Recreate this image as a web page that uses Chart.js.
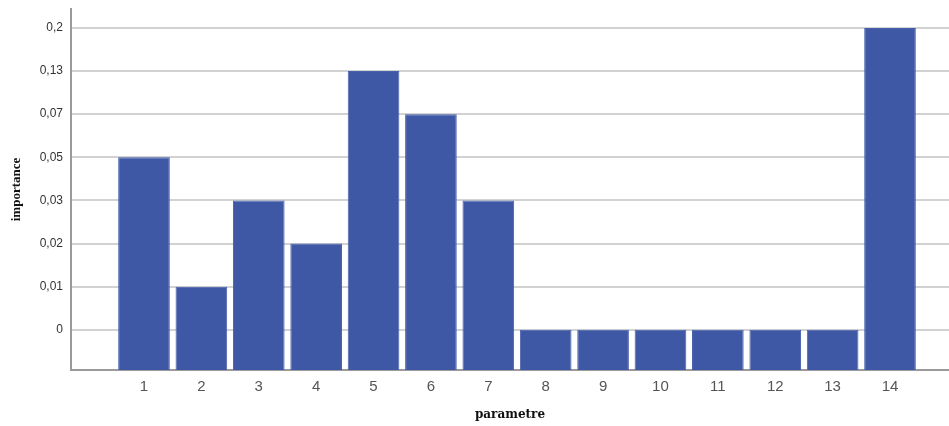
<!DOCTYPE html>
<html>
<head>
<meta charset="utf-8">
<script src="https://cdn.jsdelivr.net/npm/chart.js@4/dist/chart.umd.min.js"></script>
<style>
  html, body { margin: 0; padding: 0; background: #fff; }
  #wrap { width: 949px; height: 426px; position: relative; }
</style>
</head>
<body>
<div id="wrap"><canvas id="c"></canvas></div>
<script>
// ---- data ----
const categories = ['1','2','3','4','5','6','7','8','9','10','11','12','13','14'];
const importance = [0.05, 0.01, 0.03, 0.02, 0.13, 0.07, 0.03, 0, 0, 0, 0, 0, 0, 0.2];
const tickValues = [0, 0.01, 0.02, 0.03, 0.05, 0.07, 0.13, 0.2];
const tickLabels = ['0', '0,01', '0,02', '0,03', '0,05', '0,07', '0,13', '0,2'];
const xTitle = 'parametre';
const yTitle = 'importance';

// the y axis in the picture is ordinal: each tick value sits one step above the previous
const Y_MIN = -0.934, Y_MAX = 7.44;
const X_MIN = -0.272, X_MAX = 15.028;

const points = categories.map((c, i) => ({ x: i + 1, y: tickValues.indexOf(importance[i]) }));

new Chart(document.getElementById('c'), {
  type: 'bar',
  data: {
    datasets: [{
      data: points,
      base: Y_MIN,
      backgroundColor: '#3E58A6',
      borderColor: '#4760AC',
      borderWidth: 1,
      barPercentage: 0.9,
      categoryPercentage: 1.0
    }]
  },
  options: {
    responsive: true,
    maintainAspectRatio: false,
    devicePixelRatio: 1,
    animation: false,
    layout: { padding: { top: 9, right: 0, left: 0, bottom: 0 } },
    plugins: { legend: { display: false }, tooltip: { enabled: false } },
    scales: {
      x: {
        type: 'linear',
        offset: false,
        min: X_MIN, max: X_MAX,
        grid: { display: false, offset: false },
        border: { display: true, color: '#9a9a9a', width: 2 },
        ticks: {
          stepSize: 1,
          includeBounds: false,
          autoSkip: false,
          maxRotation: 0,
          padding: 0,
          color: '#555',
          font: { family: 'Liberation Sans, Arial, sans-serif', size: 15 },
          callback: (v) => (Number.isInteger(v) && v >= 1 && v <= categories.length) ? categories[v - 1] : ''
        },
        title: {
          display: true,
          text: xTitle,
          color: '#111',
          font: { family: 'DejaVu Serif, serif', size: 12, weight: 'bold' },
          padding: { top: 4, bottom: 4 }
        },
        afterFit: (s) => { s.height = 56; s.paddingLeft = 0; s.paddingRight = 0; }
      },
      y: {
        type: 'linear',
        min: Y_MIN, max: Y_MAX,
        grid: { color: '#d2d2d2', lineWidth: 2, drawTicks: false },
        border: { display: true, color: '#9a9a9a', width: 2 },
        ticks: {
          stepSize: 1,
          includeBounds: false,
          padding: 8,
          color: '#333',
          font: { family: 'Liberation Sans, Arial, sans-serif', size: 12 },
          callback: (v) => (Number.isInteger(v) && v >= 0 && v < tickLabels.length) ? tickLabels[v] : ''
        },
        title: {
          display: true,
          text: yTitle,
          color: '#111',
          font: { family: 'Liberation Serif, serif', size: 13, weight: 'bold' },
          padding: { top: 9, bottom: 9 }
        },
        afterFit: (s) => { s.width = 71; s.paddingTop = 0; s.paddingBottom = 0; }
      }
    }
  }
});
</script>
</body>
</html>
